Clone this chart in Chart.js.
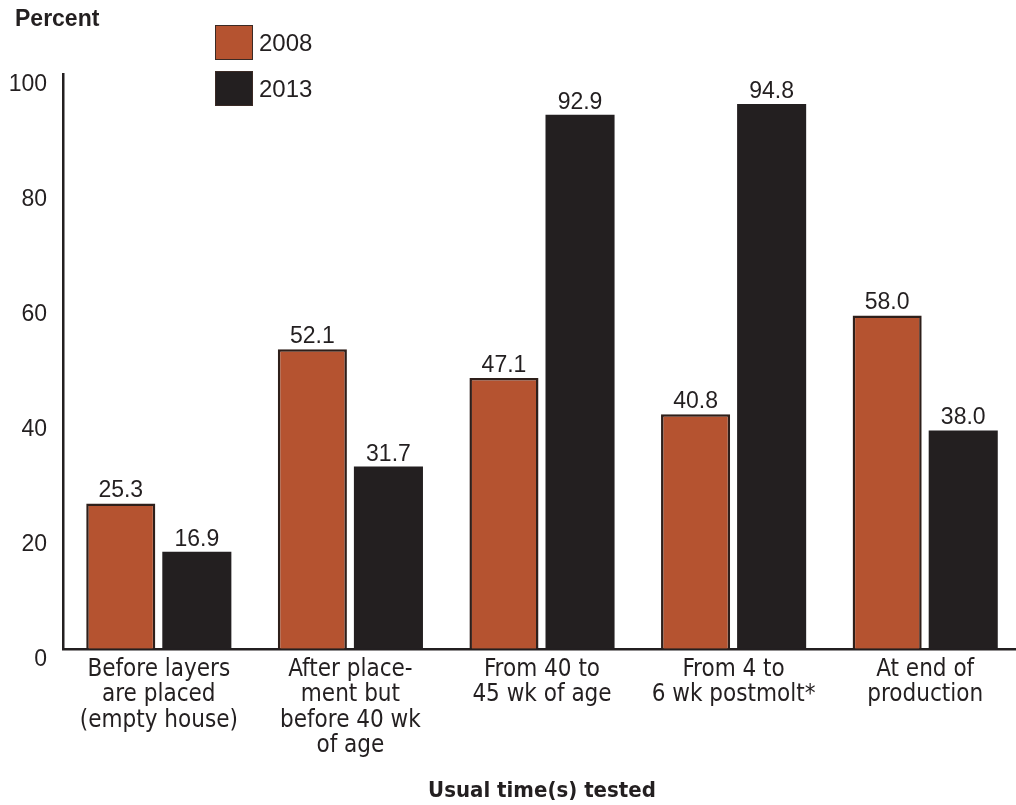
<!DOCTYPE html>
<html>
<head>
<meta charset="utf-8">
<script src="https://cdn.jsdelivr.net/npm/chart.js@4/dist/chart.umd.min.js"></script>
<style>
  html, body { margin: 0; padding: 0; background: #fff; overflow: hidden; }
  #wrap { position: relative; width: 1021px; height: 805px; }
</style>
</head>
<body>
<div id="wrap"><canvas id="chart"></canvas></div>
<script>
// Usual time(s) flocks were tested, 2008 vs 2013
const categories = [
  ['Before layers', 'are placed', '(empty house)'],
  ['After place-', 'ment but', 'before 40 wk', 'of age'],
  ['From 40 to', '45 wk of age'],
  ['From 4 to', '6 wk postmolt*'],
  ['At end of', 'production']
];
const seriesNames = ['2008', '2013'];
const values2008 = [25.3, 52.1, 47.1, 40.8, 58.0];
const values2013 = [16.9, 31.7, 92.9, 94.8, 38.0];
const yTicks = [0, 20, 40, 60, 80, 100];

const ORANGE = '#b55330';
const BLACK = '#231f20';
const INK = '#231f20';
const SANS = '"Liberation Sans", Arial, Helvetica, sans-serif';
const NARROW = '"Liberation Sans Narrow", "Arial Narrow", "DejaVu Sans Condensed", sans-serif';

// value labels above each bar
const valueLabels = {
  id: 'valueLabels',
  afterDatasetsDraw(chart) {
    const ctx = chart.ctx;
    ctx.save();
    ctx.font = '23px ' + SANS;
    ctx.fillStyle = INK;
    ctx.textAlign = 'center';
    ctx.textBaseline = 'alphabetic';
    chart.data.datasets.forEach((ds, i) => {
      chart.getDatasetMeta(i).data.forEach((bar, j) => {
        ctx.fillText(ds.data[j].toFixed(1), bar.x, bar.y - 6);
      });
    });
    ctx.restore();
  }
};

// "Percent" heading and the stacked legend boxes
const headings = {
  id: 'headings',
  afterDraw(chart) {
    const ctx = chart.ctx;
    ctx.save();
    ctx.font = 'bold 23px ' + SANS;
    ctx.fillStyle = INK;
    ctx.textAlign = 'left';
    ctx.textBaseline = 'alphabetic';
    ctx.fillText('Percent', 15, 26);

    ctx.font = '24px ' + SANS;
    chart.data.datasets.forEach((ds, i) => {
      const y = 25 + i * 46;
      ctx.fillStyle = ds.backgroundColor;
      ctx.fillRect(215, y, 38, 35);
      ctx.strokeStyle = '#3a2a25';
      ctx.lineWidth = 1;
      ctx.strokeRect(215.5, y + 0.5, 37, 34);
      ctx.fillStyle = INK;
      ctx.fillText(ds.label, 259, y + 26);
    });
    ctx.restore();
  }
};

function draw() {
  new Chart(document.getElementById('chart'), {
    type: 'bar',
    data: {
      labels: categories,
      datasets: [
        {
          label: seriesNames[0],
          data: values2008,
          backgroundColor: ORANGE,
          borderColor: '#2e1f1a',
          borderWidth: 2.5
        },
        {
          label: seriesNames[1],
          data: values2013,
          backgroundColor: BLACK,
          borderWidth: 0
        }
      ]
    },
    options: {
      responsive: true,
      maintainAspectRatio: false,
      animation: false,
      categoryPercentage: 0.794,
      barPercentage: 0.908,
      layout: { padding: { top: 74, right: 0, bottom: 1, left: 0 } },
      plugins: {
        legend: { display: false },
        tooltip: { enabled: false }
      },
      scales: {
        x: {
          grid: { display: false, drawTicks: false },
          border: { color: INK, width: 2.5 },
          ticks: {
            color: INK,
            padding: 8,
            maxRotation: 0,
            autoSkip: false,
            font: { family: NARROW, size: 24, lineHeight: 1.06 }
          },
          title: {
            display: true,
            text: 'Usual time(s) tested',
            color: INK,
            padding: { top: 11, bottom: 0 },
            font: { family: NARROW, size: 22, weight: 'bold' }
          }
        },
        y: {
          min: 0,
          max: 100,
          afterBuildTicks(axis) {
            axis.ticks = yTicks.map(v => ({ value: v }));
          },
          afterFit(axis) { axis.width = 63; },
          grid: { display: false, drawTicks: false },
          border: { color: INK, width: 2.5 },
          ticks: {
            color: INK,
            padding: 16,
            labelOffset: 11,
            font: { family: SANS, size: 23 }
          }
        }
      }
    },
    plugins: [valueLabels, headings]
  });
}

// make sure the system faces are ready before the canvas text is drawn
Promise.all([
  document.fonts.load('23px "Liberation Sans"'),
  document.fonts.load('bold 23px "Liberation Sans"'),
  document.fonts.load('24px "Liberation Sans Narrow"'),
  document.fonts.load('bold 22px "Liberation Sans Narrow"')
]).then(draw, draw);
</script>
</body>
</html>
